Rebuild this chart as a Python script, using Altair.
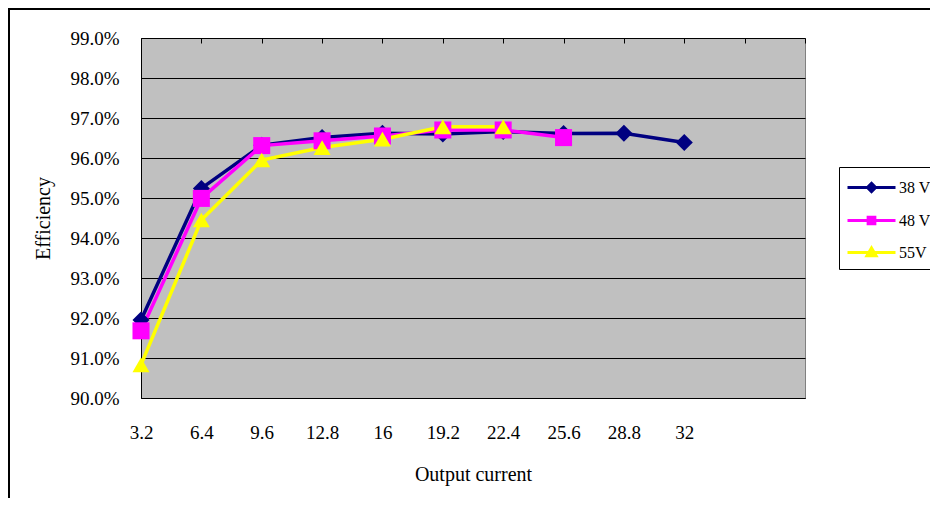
import altair as alt
import pandas as pd

# ---- data ----
currents = [3.2, 6.4, 9.6, 12.8, 16, 19.2, 22.4, 25.6, 28.8, 32]
eff_38v = [91.95, 95.24, 96.32, 96.51, 96.62, 96.60, 96.66, 96.61, 96.62, 96.39]
eff_48v = [91.68, 94.99, 96.31, 96.43, 96.55, 96.70, 96.70, 96.51]
eff_55v = [90.83, 94.45, 95.95, 96.26, 96.47, 96.78, 96.78]
series_names = ["38 V", "48 V", "55V"]
series_colors = ["#000080", "#FF00FF", "#FFFF00"]
series_shapes = ["diamond", "square", "triangle-up"]
legend_paths = [
    "M-1,0L3,0M1,-0.34L1.34,0L1,0.34L0.66,0Z",
    "M-1,0L3,0M0.72,-0.28L1.28,-0.28L1.28,0.28L0.72,0.28Z",
    "M-1,0L3,0M1,-0.38L1.38,0.27L0.62,0.27Z",
]
x_tick_values = [3.2, 6.4, 9.6, 12.8, 16, 19.2, 22.4, 25.6, 28.8, 32, 35.2, 38.4]
y_tick_values = [0.90, 0.91, 0.92, 0.93, 0.94, 0.95, 0.96, 0.97, 0.98, 0.99]

rows = []
for name, vals in zip(series_names, [eff_38v, eff_48v, eff_55v]):
    for i, v in enumerate(vals):
        rows.append({"current": currents[i], "eff": v / 100.0, "series": name, "order": i})
df = pd.DataFrame(rows)

FONT = "Liberation Serif"
W, H = 664, 360

color_scale = alt.Scale(domain=series_names, range=series_colors)

x_enc = alt.X(
    "current:Q",
    scale=alt.Scale(domain=[3.2, 38.4], nice=False, zero=False),
    axis=alt.Axis(
        title="Output current",
        values=x_tick_values,
        tickCount=20,
        labelExpr="datum.value > 33 ? '' : format(datum.value, '~g')",
        labelPadding=25,
        titlePadding=22,
        gridDash=[5, 1000],
    ),
)

y_enc = alt.Y(
    "eff:Q",
    scale=alt.Scale(domain=[0.90, 0.99], nice=False, zero=False),
    axis=alt.Axis(
        title="Efficiency",
        values=y_tick_values,
        tickCount=20,
        format=".1%",
        labelPadding=22,
        titlePadding=16,
    ),
)

legend_def = alt.Legend(
    title=None,
    orient="none",
    legendX=698,
    legendY=129,
    padding=7,
    strokeColor="black",
    fillColor="white",
    labelFont=FONT,
    labelFontSize=16,
    labelColor="black",
    symbolSize=576,
    symbolStrokeWidth=3,
    symbolOpacity=1,
    labelOffset=26,
    rowPadding=9,
    cornerRadius=0,
)

# invisible layer that only feeds the legend (line + marker symbols)
legend_src = alt.Chart(df).mark_point(filled=False, size=576, opacity=0).encode(
    color=alt.Color("series:N", scale=color_scale, legend=legend_def),
    shape=alt.Shape("series:N", scale=alt.Scale(domain=series_names, range=legend_paths), legend=legend_def),
)

lines = alt.Chart(df).mark_line(strokeWidth=3.5).encode(
    color=alt.Color("series:N", scale=color_scale, legend=None),
    order="order:Q",
)

point_layers = []
for name, shp in zip(series_names, series_shapes):
    point_layers.append(
        alt.Chart(df)
        .transform_filter(alt.datum.series == name)
        .mark_point(shape=shp, filled=True, size=290, opacity=1, strokeWidth=0)
        .encode(color=alt.Color("series:N", scale=color_scale, legend=None))
    )

frame = alt.Chart(alt.Data(values=[{"a": 1}])).mark_rect(
    fillOpacity=0, stroke="black", strokeWidth=2
).encode(
    x=alt.value(-132), x2=alt.value(900), y=alt.value(-29), y2=alt.value(700)
)

data_layers = alt.layer(legend_src, lines, *point_layers).encode(x=x_enc, y=y_enc)

chart = (
    alt.layer(frame, data_layers)
    .properties(
        width=W,
        height=H,
        autosize=alt.AutoSizeParams(type="none"),
        padding={"left": 133, "top": 30, "right": 125, "bottom": 100},
        background="white",
    )
    .configure_axis(
        labelFont=FONT,
        labelFontSize=19,
        labelColor="black",
        labelOverlap=False,
        labelFlush=False,
        titleFont=FONT,
        titleFontSize=20,
        titleFontWeight="normal",
        titleColor="black",
        ticks=False,
        domainColor="black",
        domainWidth=1,
        grid=True,
        gridColor="black",
        gridWidth=1,
        gridOpacity=1,
    )
    .configure_view(fill="#C0C0C0", stroke="#808080", strokeWidth=1)
)

chart.save("out.html", embed_options={"renderer": "svg", "actions": False})
